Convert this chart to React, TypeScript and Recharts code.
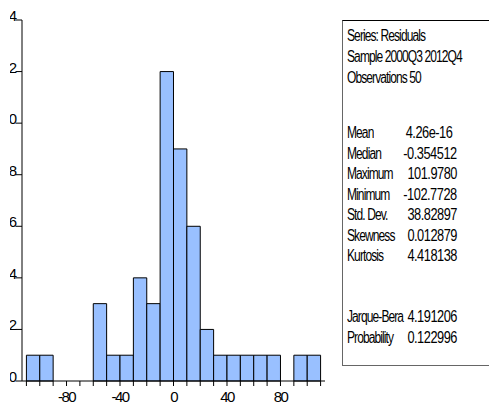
import { ComposedChart, Bar, XAxis, YAxis } from "recharts";

// histogram of residuals, bins of width 10
const binMid = [-105, -95, -85, -75, -65, -55, -45, -35, -25, -15, -5, 5, 15, 25, 35, 45, 55, 65, 75, 85, 95, 105];
const counts = [1, 1, 0, 0, 0, 3, 1, 1, 4, 3, 12, 9, 6, 2, 1, 1, 1, 1, 1, 0, 1, 1];

const xTicks = [-110, -100, -90, -80, -70, -60, -50, -40, -30, -20, -10, 0, 10, 20, 30, 40, 50, 60, 70, 80, 90, 100, 110];
const xLabelTicks = [-80, -40, 0, 40, 80];
const yTicks = [0, 2, 4, 6, 8, 10, 12, 14];

const headerLines = ["Series: Residuals", "Sample 2000Q3 2012Q4", "Observations 50"];
const statNames = ["Mean", "Median", "Maximum", "Minimum", "Std. Dev.", "Skewness", "Kurtosis"];
const statValues = ["4.26e-16", "-0.354512", "101.9780", "-102.7728", "38.82897", "0.012879", "4.418138"];
const testNames = ["Jarque-Bera", "Probability"];
const testValues = ["4.191206", "0.122996"];

const X_DOMAIN: [number, number] = [-113.3, 113.3];
const FONT = "'Liberation Sans', Arial, sans-serif";
const BAR_FILL = "#99c0ff";

const data = binMid.map((m, i) => ({ mid: m, count: counts[i] }));

const XTick = (props: any) => {
  const { x, y, payload } = props;
  if (!xLabelTicks.includes(payload.value)) return <g />;
  return (
    <text x={x} y={y + 14} textAnchor="middle" fontFamily={FONT} fontSize={15} letterSpacing={-1.6} fill="#000">
      {payload.value}
    </text>
  );
};

const YTick = (props: any) => {
  const { x, y, payload } = props;
  return (
    <text x={x} y={y + 1} textAnchor="end" fontFamily={FONT} fontSize={15} letterSpacing={-1.6} fill="#000">
      {payload.value}
    </text>
  );
};

// EViews draws the stats table in a very condensed face
const textStyle = {
  position: "absolute" as const,
  fontFamily: FONT,
  fontSize: 16,
  letterSpacing: -1.2,
  lineHeight: "16px",
  color: "#000",
  whiteSpace: "nowrap" as const,
  transform: "scaleX(0.75)",
};
const valueStyle = { ...textStyle, letterSpacing: -0.6, transform: "scaleX(0.8)" };

export default function App() {
  const statRows = statNames.map((n, i) => ({ name: n, value: statValues[i], top: 133 + i * 20.5 }));
  const testRows = testNames.map((n, i) => ({ name: n, value: testValues[i], top: 317 + i * 20.5 }));

  return (
    <div style={{ position: "absolute", left: 0, top: 0, width: 489, height: 405, background: "#fff", overflow: "hidden" }}>
      <div style={{ position: "absolute", left: 10, top: 0, width: 320, height: 405, overflow: "hidden" }}>
        <ComposedChart width={320} height={405} data={data} margin={{ top: 20, right: 5, bottom: 0, left: 2 }} barGap={0}>
          <XAxis
            dataKey="mid"
            type="number"
            domain={X_DOMAIN}
            ticks={xTicks}
            interval={0}
            allowDataOverflow
            height={24}
            tickSize={5}
            tickMargin={2}
            tick={<XTick />}
            axisLine={{ stroke: "#000" }}
            tickLine={{ stroke: "#000" }}
          />
          <XAxis
            xAxisId="top"
            orientation="top"
            type="number"
            domain={X_DOMAIN}
            allowDataOverflow
            height={0}
            tick={false}
            tickLine={false}
            axisLine={{ stroke: "#000" }}
          />
          <YAxis
            domain={[0, 14]}
            ticks={yTicks}
            interval={0}
            width={10}
            tickSize={6.5}
            tickMargin={0}
            tick={<YTick />}
            axisLine={{ stroke: "#000" }}
            tickLine={{ stroke: "#000" }}
          />
          <YAxis
            yAxisId="right"
            orientation="right"
            domain={[0, 14]}
            allowDataOverflow
            width={0}
            tick={false}
            tickLine={false}
            axisLine={{ stroke: "#000" }}
          />
          <Bar dataKey="count" fill={BAR_FILL} stroke="#000" strokeWidth={1} barSize={13.37} isAnimationActive={false} />
        </ComposedChart>
      </div>

      <div
        style={{
          position: "absolute",
          left: 342,
          top: 20,
          width: 160,
          height: 344,
          borderTop: "1px solid #000",
          borderLeft: "1px solid #666",
          borderBottom: "1px solid #666",
        }}
      />
      {headerLines.map((t, i) => (
        <div key={t} style={{ ...textStyle, left: 347, top: 36 + i * 21 - 8, transformOrigin: "left center" }}>
          {t}
        </div>
      ))}
      {statRows.concat(testRows).map((r) => (
        <div key={r.name}>
          <div style={{ ...textStyle, left: 347, top: r.top - 8, transformOrigin: "left center" }}>{r.name}</div>
          <div
            style={{
              ...valueStyle,
              right: r.name === "Mean" ? 489 - 452 : 489 - 457,
              top: r.top - 8,
              textAlign: "right",
              transformOrigin: "right center",
            }}
          >
            {r.value}
          </div>
        </div>
      ))}
    </div>
  );
}
